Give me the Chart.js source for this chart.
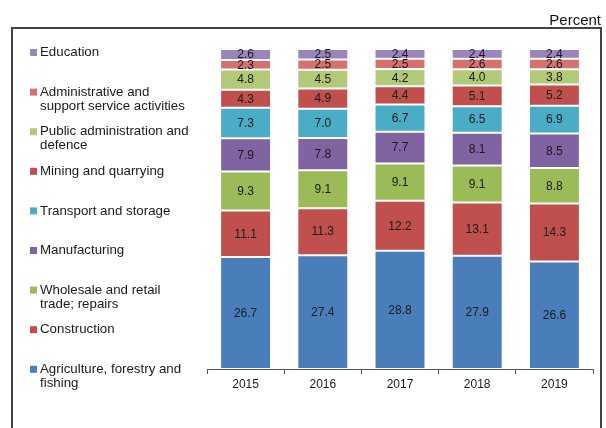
<!DOCTYPE html>
<html><head><meta charset="utf-8">
<script src="https://cdn.jsdelivr.net/npm/chart.js@4/dist/chart.umd.min.js"></script>
<style>html,body{margin:0;padding:0;background:#fff;}#wrap{width:606px;height:428px;}</style>
</head><body><div id="wrap"><canvas id="c" width="606" height="428"></canvas></div>
<script>
const years = ['2015', '2016', '2017', '2018', '2019'];
const seriesLabels = [
  ['Agriculture, forestry and', 'fishing'],
  ['Construction'],
  ['Wholesale and retail', 'trade; repairs'],
  ['Manufacturing'],
  ['Transport and storage'],
  ['Mining and quarrying'],
  ['Public administration and', 'defence'],
  ['Administrative and', 'support service activities'],
  ['Education']
];
const agriculture = [26.7, 27.4, 28.8, 27.9, 26.6];
const construction = [11.1, 11.3, 12.2, 13.1, 14.3];
const wholesale = [9.3, 9.1, 9.1, 9.1, 8.8];
const manufacturing = [7.9, 7.8, 7.7, 8.1, 8.5];
const transport = [7.3, 7.0, 6.7, 6.5, 6.9];
const mining = [4.3, 4.9, 4.4, 5.1, 5.2];
const publicAdmin = [4.8, 4.5, 4.2, 4.0, 3.8];
const administrative = [2.3, 2.5, 2.5, 2.6, 2.6];
const education = [2.6, 2.5, 2.4, 2.4, 2.4];
const seriesValues = [agriculture, construction, wholesale, manufacturing, transport, mining, publicAdmin, administrative, education];
const seriesColors = ['#4a7ebb', '#c0504d', '#9bbb59', '#8064a2', '#4bacc6', '#c0504d', '#b2c97a', '#d5716e', '#9a85ba'];

const totals = years.map((_, i) => seriesValues.reduce((s, arr) => s + arr[i], 0));
const FONT = '"Liberation Sans", Arial, Helvetica, sans-serif';

const datasets = seriesValues.map((vals, k) => ({
  label: seriesLabels[k].join(' '),
  data: vals.map((v, i) => v / totals[i] * 100),
  raw: vals,
  backgroundColor: seriesColors[k],
  borderColor: 'rgba(255,255,255,0.22)',
  borderWidth: 1,
  borderSkipped: false,
  categoryPercentage: 1,
  barPercentage: 0.66
}));

const deco = {
  id: 'deco',
  beforeDraw(chart) {
    const ctx = chart.ctx;
    ctx.save();
    ctx.fillStyle = '#fff';
    ctx.fillRect(0, 0, chart.width, chart.height);
    ctx.strokeStyle = '#444';
    ctx.lineWidth = 2;
    ctx.beginPath();
    ctx.moveTo(12, 440); ctx.lineTo(12, 28); ctx.lineTo(601, 28); ctx.lineTo(601, 440);
    ctx.stroke();
    ctx.fillStyle = '#111';
    ctx.font = '15px ' + FONT;
    ctx.textAlign = 'right';
    ctx.textBaseline = 'alphabetic';
    ctx.fillText('Percent', 601, 25);
    ctx.restore();
  },
  afterDatasetsDraw(chart) {
    const ctx = chart.ctx;
    ctx.save();
    ctx.fillStyle = '#1a1a1a';
    ctx.font = '12px ' + FONT;
    ctx.textAlign = 'center';
    ctx.textBaseline = 'middle';
    chart.data.datasets.forEach((ds, k) => {
      const meta = chart.getDatasetMeta(k);
      meta.data.forEach((el, i) => {
        ctx.fillText(ds.raw[i].toFixed(1), el.x, (el.y + el.base) / 2 + 0.5);
      });
    });
    ctx.restore();
  },
  afterDraw(chart) {
    const ctx = chart.ctx;
    ctx.save();
    ctx.font = '13.3px ' + FONT;
    ctx.textBaseline = 'middle';
    ctx.textAlign = 'left';
    const n = chart.data.datasets.length;
    for (let j = 0; j < n; j++) {
      const k = n - 1 - j;
      const y0 = 52.5 + j * 39.6;
      ctx.fillStyle = chart.data.datasets[k].backgroundColor;
      ctx.fillRect(30, y0 - 3.5, 7, 7);
      ctx.fillStyle = '#1a1a1a';
      seriesLabels[k].forEach((line, li) => ctx.fillText(line, 40, y0 + li * 14));
    }
    ctx.restore();
  }
};

new Chart(document.getElementById('c'), {
  type: 'bar',
  data: { labels: years, datasets },
  options: {
    responsive: false,
    animation: false,
    devicePixelRatio: 1,
    layout: { padding: { left: 207, right: 13, top: 49, bottom: 0 } },
    plugins: { legend: { display: false }, tooltip: { enabled: false } },
    scales: {
      x: {
        stacked: true,
        offset: true,
        grid: { display: true, drawOnChartArea: false, drawTicks: true, tickLength: 5, color: '#555', offset: true },
        border: { display: true, color: '#555', width: 1 },
        ticks: { color: '#1a1a1a', font: { size: 12, family: FONT }, padding: 3 },
        afterFit: s => { s.height = 59; }
      },
      y: { stacked: true, display: false, min: 0, max: 100 }
    }
  },
  plugins: [deco]
});
</script></body></html>
